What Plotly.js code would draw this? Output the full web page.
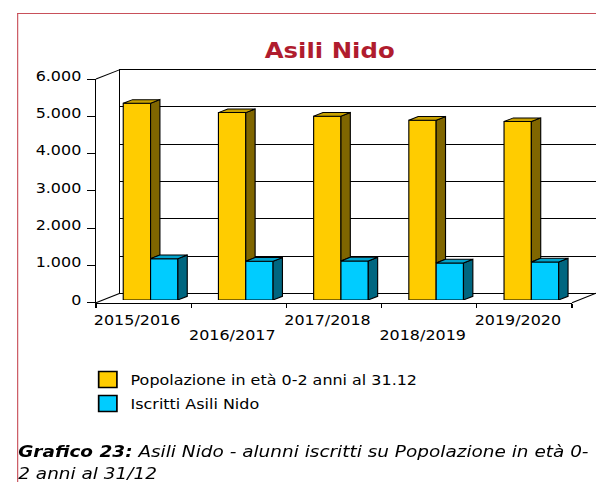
<!DOCTYPE html>
<html><head><meta charset="utf-8">
<script src="https://cdn.plot.ly/plotly-3.0.1.min.js"></script>
<style>
html,body{margin:0;padding:0;background:#fff;overflow:hidden;width:596px;height:482px;}
#wrap{position:absolute;left:0;top:0;width:523px;height:482px;transform:scaleX(1.139579);transform-origin:0 0;}
#chart{position:absolute;left:0;top:0;width:523px;height:482px;}
#frame{position:absolute;left:14.9px;top:13px;width:2000px;height:2000px;border-left:1px solid #c8505a;border-top:1px solid #c8505a;pointer-events:none;}
#caption{position:absolute;left:16px;top:441px;font-family:'DejaVu Sans';font-size:16.2px;line-height:21.6px;font-style:italic;white-space:nowrap;color:#000;}
</style></head>
<body>
<div id="wrap"><div id="chart"></div><div id="frame"></div><div id="caption"><b>Grafico 23:</b> Asili Nido - alunni iscritti su Popolazione in età 0-<br>2 anni al 31/12</div></div>
<script>
const categories = ['2015/2016','2016/2017','2017/2018','2018/2019','2019/2020'];
const popolazione = [5275, 5025, 4930, 4820, 4785];
const iscritti = [1108, 1038, 1046, 992, 1019];
const yTickVals = [0,1000,2000,3000,4000,5000,6000];
const yTickText = ['0','1.000','2.000','3.000','4.000','5.000','6.000'];
const seriesNames = ['Popolazione in età 0-2 anni al 31.12','Iscritti Asili Nido'];
const chartTitle = 'Asili Nido';

const W = 523, H = 482, TW = 596;
const px = p => p / TW;
const py = p => 1 - p / H;
const YMAX = 6000;

const front = {x0: 96, x1: 572, yb: 302.7, yt: 79};
const DEPTH = {dx: 24, dy: -9.4};
function plane(f){ return {x0: front.x0 + DEPTH.dx*f, x1: front.x1 + DEPTH.dx*f, yb: front.yb + DEPTH.dy*f, yt: front.yt + DEPTH.dy*f}; }
const back = plane(1);
const barPlane = plane(0.29);
const n = categories.length;
const idx = categories.map((c,i)=>i);
const unitPx = (barPlane.x1 - barPlane.x0) / n;
const valPx = (barPlane.yb - barPlane.yt) / YMAX;
const BW = 0.287;
const ddx = DEPTH.dx*0.39 / unitPx;
const ddy = -DEPTH.dy*0.39 / valPx;
const LABEL_SHIFT_X = -6.5;
const LABEL_SHIFT_Y = -3;
const LABEL_DROP = 7.5;
const STAGGER = 14.5;

const C = {y:'#FFCC00', ySide:'#806600', yTop:'#C9A200', b:'#00CCFF', bSide:'#006680', bTop:'#00A3CC'};

function poly(list){
  const xs=[], ys=[];
  list.forEach(pts=>{ pts.forEach(p=>{xs.push(p[0]);ys.push(p[1]);}); xs.push(pts[0][0]); ys.push(pts[0][1]); xs.push(null); ys.push(null); });
  return {xs, ys};
}
const ySide = poly(idx.map(i=>[[i, iscritti[i]],[i, popolazione[i]],[i+ddx, popolazione[i]+ddy],[i+ddx, iscritti[i]+ddy]]));
const bSide = poly(idx.map(i=>[[i+BW, 0],[i+BW, iscritti[i]],[i+BW+ddx, iscritti[i]+ddy],[i+BW+ddx, ddy]]));
const yTop = poly(idx.map(i=>[[i-BW, popolazione[i]],[i, popolazione[i]],[i+ddx, popolazione[i]+ddy],[i-BW+ddx, popolazione[i]+ddy]]));
const bTop = poly(idx.map(i=>[[i, iscritti[i]],[i+BW, iscritti[i]],[i+BW+ddx, iscritti[i]+ddy],[i+ddx, iscritti[i]+ddy]]));

const edge = {color:'#000', width:1};
function face(p, color){
  return {type:'scatter', mode:'lines', x:p.xs, y:p.ys, fill:'toself', fillcolor:color, line:edge, xaxis:'x3', yaxis:'y3', showlegend:false, hoverinfo:'skip'};
}
function anchorTrace(xa, ya){
  return {type:'scatter', mode:'lines', x:[null], y:[null], xaxis:xa, yaxis:ya, showlegend:false, hoverinfo:'skip'};
}
const traces = [
  anchorTrace('x','y'), anchorTrace('x2','y2'), anchorTrace('x4','y'), anchorTrace('x5','y'), anchorTrace('x','y6'),
  {type:'bar', x:idx, y:popolazione, width:BW, offset:-BW, marker:{color:C.y, line:edge}, xaxis:'x3', yaxis:'y3', showlegend:false, name:seriesNames[0]},
  {type:'bar', x:idx, y:iscritti, width:BW, offset:0, marker:{color:C.b, line:edge}, xaxis:'x3', yaxis:'y3', showlegend:false, name:seriesNames[1]},
  face(ySide, C.ySide), face(bSide, C.bSide), face(yTop, C.yTop), face(bTop, C.bTop),
  {type:'scatter', mode:'markers', x:[null], y:[null], name:seriesNames[0], legendgroup:'a', marker:{symbol:'square', size:16, color:C.y, line:{color:'#000', width:1.5}}, xaxis:'x3', yaxis:'y3'},
  {type:'scatter', mode:'markers', x:[null], y:[null], name:seriesNames[1], legendgroup:'b', marker:{symbol:'square', size:16, color:C.b, line:{color:'#000', width:1.5}}, xaxis:'x3', yaxis:'y3'}
];

const xr = [-0.5, n-0.5];
const hidden = {showgrid:false, zeroline:false, showticklabels:false, ticks:'', showline:false, fixedrange:true};
const labelAxis = (vals, texts, posPx) => ({
  domain:[px(front.x0 + LABEL_SHIFT_X), px(front.x1 + LABEL_SHIFT_X)], anchor:'free', position:py(posPx), range:xr,
  showgrid:false, zeroline:false, showline:false, ticks:'', tickmode:'array', tickvals:vals, ticktext:texts, tickfont:{size:14}, fixedrange:true
});
const layout = {
  width:W, height:H, margin:{l:0,r:0,t:0,b:0,pad:0},
  paper_bgcolor:'#fff', plot_bgcolor:'rgba(0,0,0,0)',
  font:{family:'DejaVu Sans', size:14, color:'#000'},
  title:{text:chartTitle, font:{family:'DejaVu Sans', size:21.4, color:'#B01C2E', weight:'bold'}, x:px(329.7), xanchor:'center', xref:'paper', y:py(50.5), yanchor:'middle', yref:'paper'},
  showlegend:true,
  legend:{x:px(85), y:py(364), xanchor:'left', yanchor:'top', font:{family:'DejaVu Sans', size:14, color:'#000'}, tracegroupgap:2.6, bgcolor:'rgba(0,0,0,0)', traceorder:'grouped'},
  barmode:'overlay',
  xaxis:{domain:[px(front.x0), px(front.x1)], range:xr, anchor:'y', showgrid:false, zeroline:false, showline:true, linecolor:'#000', linewidth:1,
         ticks:'outside', ticklen:4, tickcolor:'#000', tickmode:'array', tickvals:idx.concat([n]).map(i=>i-0.5), showticklabels:false, fixedrange:true},
  yaxis:{domain:[py(front.yb), py(front.yt)], range:[0,YMAX], anchor:'x', showgrid:false, zeroline:false, showline:true, linecolor:'#000', linewidth:1,
         ticks:'outside', ticklen:7, tickcolor:'#000', tickmode:'array', tickvals:yTickVals, showticklabels:false, fixedrange:true},
  yaxis6:{domain:[py(front.yb + LABEL_SHIFT_Y), py(front.yt + LABEL_SHIFT_Y)], range:[0,YMAX], anchor:'free', position:px(front.x0 - 3.5), side:'left',
         showgrid:false, zeroline:false, showline:false, ticks:'outside', ticklen:7, tickcolor:'rgba(0,0,0,0)', tickmode:'array', tickvals:yTickVals, ticktext:yTickText, tickfont:{size:14}, fixedrange:true},
  xaxis2:{domain:[px(back.x0), px(back.x1)-0.0008], range:xr, anchor:'y2', showgrid:false, zeroline:false, showticklabels:false, ticks:'', showline:true, mirror:true, linecolor:'#000', linewidth:1, fixedrange:true},
  yaxis2:{domain:[py(back.yb), py(back.yt)], range:[0,YMAX], anchor:'x2', showgrid:true, gridcolor:'#000', gridwidth:1, zeroline:false, showticklabels:false, ticks:'', tickmode:'array', tickvals:yTickVals, showline:true, mirror:true, linecolor:'#000', linewidth:1, fixedrange:true},
  xaxis3:Object.assign({domain:[px(barPlane.x0), px(barPlane.x1)], range:xr, anchor:'y3'}, hidden),
  yaxis3:Object.assign({domain:[py(barPlane.yb), py(barPlane.yt)], range:[0,YMAX], anchor:'x3'}, hidden),
  xaxis4:labelAxis(idx.filter(i=>i%2===0), categories.filter((c,i)=>i%2===0), front.yb + LABEL_DROP),
  xaxis5:labelAxis(idx.filter(i=>i%2===1), categories.filter((c,i)=>i%2===1), front.yb + LABEL_DROP + STAGGER),
  shapes:[
    {type:'line', xref:'paper', yref:'paper', x0:px(front.x0), y0:py(front.yt), x1:px(back.x0), y1:py(back.yt), line:edge},
    {type:'line', xref:'paper', yref:'paper', x0:px(front.x0), y0:py(front.yb), x1:px(back.x0), y1:py(back.yb), line:edge},
    {type:'line', xref:'paper', yref:'paper', x0:px(front.x1), y0:py(front.yb), x1:px(back.x1), y1:py(back.yb), line:edge}
  ]
};
Plotly.newPlot('chart', traces, layout, {displayModeBar:false, staticPlot:true});
</script>
</body></html>
